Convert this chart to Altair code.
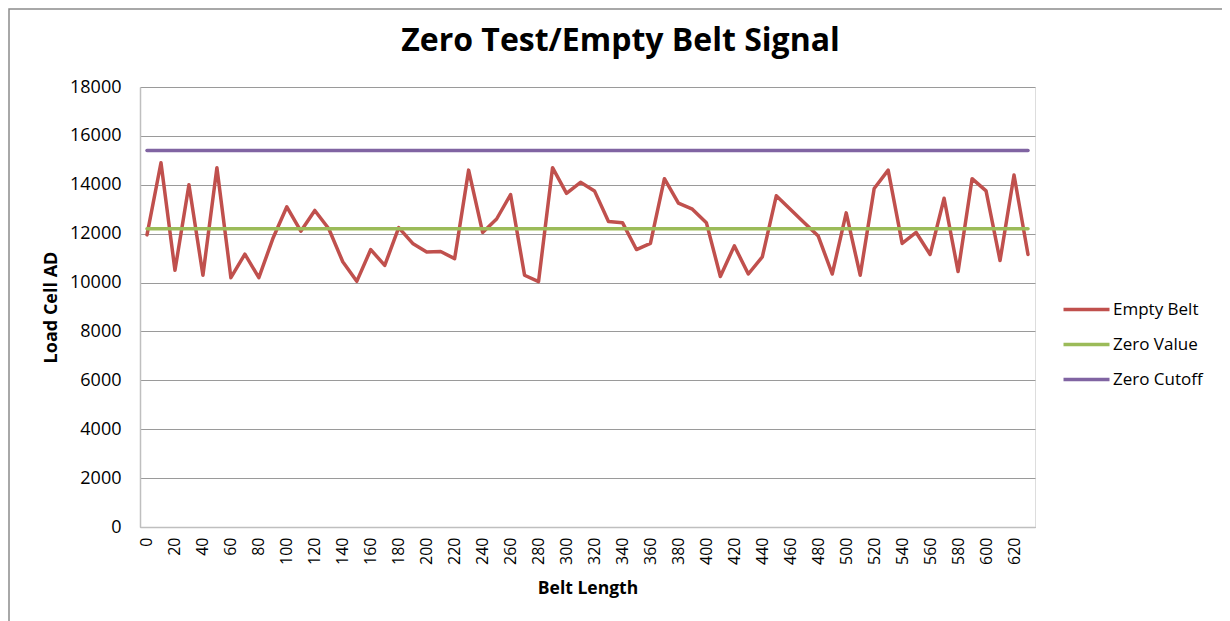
import altair as alt
import pandas as pd

belt_length = list(range(0, 640, 10))
empty_belt = [11950, 14900, 10500, 14000, 10300, 14700, 10200, 11160, 10200, 11800,
              13100, 12100, 12950, 12200, 10850, 10050, 11350, 10700, 12250, 11600,
              11250, 11270, 10980, 14600, 12050, 12600, 13600, 10300, 10040, 14700,
              13650, 14100, 13750, 12500, 12450, 11350, 11600, 14250, 13250, 13000,
              12450, 10250, 11500, 10350, 11050, 13550, 13000, 12450, 11900, 10350,
              12850, 10300, 13850, 14600, 11600, 12050, 11150, 13450, 10450, 14250,
              13750, 10900, 14400, 11150]
zero_value = 12200
zero_cutoff = 15400
series_names = ["Empty Belt", "Zero Value", "Zero Cutoff"]
series_colors = ["#C0504D", "#9BBB59", "#8064A2"]
x_tick_labels = list(range(0, 640, 20))
y_ticks = list(range(0, 20000, 2000))

rows = []
for x, v in zip(belt_length, empty_belt):
    rows.append({"Belt Length": x, "Load Cell AD": v, "Series": "Empty Belt"})
for x in belt_length:
    rows.append({"Belt Length": x, "Load Cell AD": zero_value, "Series": "Zero Value"})
for x in belt_length:
    rows.append({"Belt Length": x, "Load Cell AD": zero_cutoff, "Series": "Zero Cutoff"})
df = pd.DataFrame(rows)

FONT = "Open Sans"

lines = alt.Chart(df).mark_line(strokeWidth=3.5, strokeJoin="round", strokeCap="round").encode(
    x=alt.X("Belt Length:O",
            scale=alt.Scale(type="point", padding=0.5),
            axis=alt.Axis(values=x_tick_labels, labelAngle=-90, ticks=False,
                          labelPadding=10, labelFontSize=16, labelFont=FONT,
                          labelColor="#000", domainColor="#bfbfbf", domainWidth=1.5,
                          title="Belt Length", titleFont=FONT, titleFontSize=17.5,
                          titleFontWeight="bold", titleColor="#000", titlePadding=15,
                          grid=False)),
    y=alt.Y("Load Cell AD:Q",
            scale=alt.Scale(domain=[0, 18000], nice=False),
            axis=alt.Axis(values=y_ticks, format="d", ticks=False, labelPadding=19,
                          labelFontSize=18, labelFont=FONT, labelColor="#000",
                          domainColor="#bfbfbf", domainWidth=1.5,
                          gridColor="#9a9a9a", gridWidth=1,
                          title="Load Cell AD", titleFont=FONT, titleFontSize=18,
                          titleFontWeight="bold", titleColor="#000", titlePadding=9)),
    color=alt.Color("Series:N",
                    scale=alt.Scale(domain=series_names, range=series_colors),
                    sort=series_names,
                    legend=alt.Legend(title=None, orient="none", legendX=929, legendY=205,
                                      symbolType="M-1.5,0L1.5,0", symbolSize=940,
                                      symbolStrokeWidth=3.5, labelFont=FONT,
                                      labelFontSize=17, labelColor="#000",
                                      labelOffset=9, rowPadding=9, padding=0)),
    order=alt.Order("Belt Length:Q"),
)

border = alt.Chart(alt.Data(values=[{}])).mark_rect(
    fill="transparent", stroke="#8c8c8c", strokeWidth=1.5
).encode(
    x=alt.value(-131), x2=alt.value(1300), y=alt.value(-78), y2=alt.value(700)
)

chart = alt.layer(border, lines).properties(
    width=895, height=440,
    autosize=alt.AutoSizeParams(type="none"),
    padding={"left": 132, "top": 79, "right": 187, "bottom": 110},
    title=alt.TitleParams("Zero Test/Empty Belt Signal", font=FONT, fontSize=32,
                          fontWeight="bold", color="#000", anchor="middle",
                          frame="group", baseline="alphabetic", offset=-75, dx=33),
).configure_view(stroke=None).configure(background="white")

chart.save("out.html", embed_options={"renderer": "svg", "actions": False})
